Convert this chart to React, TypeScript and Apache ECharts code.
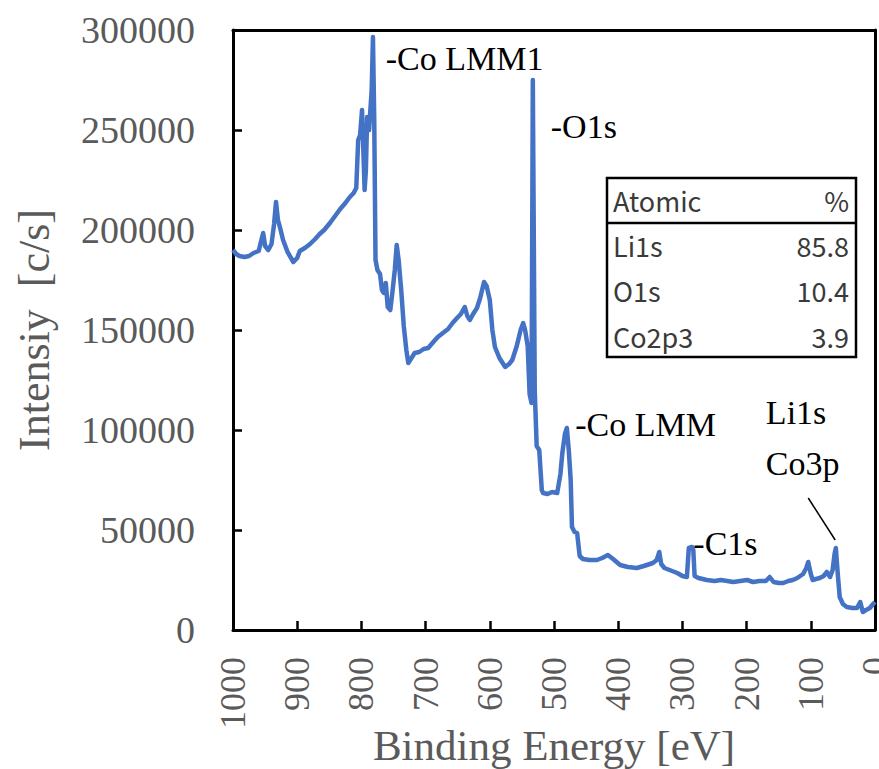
import React, { useEffect, useRef } from "react";
import * as echarts from "echarts";

// Binding energy (eV) and intensity (c/s)
const energy = [
  1000, 995, 990, 982, 975, 968, 960, 955, 953, 950, 945, 940, 936, 933, 930, 927, 922, 915, 906, 900,
  896, 888, 880, 872, 865, 858, 849, 841, 833, 825, 818, 812, 808, 805, 802, 799, 797, 795, 793, 791,
  788, 784, 782, 780, 778, 775, 771, 768, 765, 762, 759, 755, 752, 748, 745, 742, 738, 734, 730, 727,
  722, 717, 710, 703, 696, 688, 681, 673, 665, 658, 651, 645, 639, 635, 631, 626, 620, 615, 609, 605,
  600, 596, 592, 585, 576, 570, 565, 558, 552, 548, 545, 541, 538, 535, 533, 530, 527, 523, 519, 517,
  510, 503, 495, 490, 487, 483, 480, 477, 474, 472, 468, 464, 460, 455, 445, 433, 425, 416, 408, 397,
  385, 371, 360, 346, 340, 336, 333, 328, 320, 308, 300, 293, 290, 285, 283, 281, 275, 262, 250, 240,
  230, 221, 210, 199, 190, 180, 170, 164, 158, 150, 143, 135, 128, 121, 112, 107, 104, 100, 97, 92,
  86, 80, 75, 70, 66, 63, 61, 58, 55, 50, 44, 35, 28, 23, 19, 14, 8, 3, 0,
];
const intensity = [
  190000, 188000, 187000, 186500, 187000, 188500, 189500, 196000, 198500, 192000, 190000, 193000, 203000, 214000, 205000, 201500, 195000, 189000, 184000, 186000,
  189500, 191000, 193000, 195500, 198000, 200000, 203500, 207000, 210500, 213500, 216500, 218500, 221000, 245000, 247500, 260000, 240000, 220000, 230000, 256500,
  250000, 270000, 296500, 255000, 185000, 180000, 178000, 170000, 168500, 173500, 161500, 160000, 168000, 180000, 192500, 185000, 170000, 152000, 140000, 133500,
  136000, 138500, 139000, 140500, 141000, 144000, 146500, 148500, 150500, 153500, 156000, 158000, 161500, 157000, 155000, 158000, 161000, 166000, 174000, 172000,
  165000, 150000, 141500, 136000, 131500, 133000, 135000, 142000, 150000, 153500, 150000, 142000, 118000, 113500, 275000, 120000, 92000, 90000, 70000, 68500,
  68000, 69000, 68500, 78000, 88500, 98000, 101000, 90000, 75000, 51500, 49000, 48500, 37000, 35500, 35000, 35000, 36000, 37500, 35500, 32500,
  31500, 31000, 32000, 33500, 35000, 39000, 33000, 31000, 30000, 28500, 27000, 26500, 41000, 41500, 40000, 27000, 26000, 25000, 24500, 25000,
  24500, 24000, 24500, 25000, 24000, 24500, 24500, 26500, 24000, 23500, 23500, 24500, 25000, 26000, 28000, 31000, 34000, 28000, 25000, 25500,
  26000, 27000, 29000, 26500, 30000, 38000, 41000, 28000, 16500, 13000, 11500, 11000, 11000, 14000, 9000, 10000, 11000, 13000, 14000,
];

// Peak annotations: [text, energy, intensity] (left-middle anchor)
const peakLabels: [string, number, number][] = [
  ["-Co LMM1", 762, 286000],
  ["-O1s", 505, 252000],
  ["-Co LMM", 467, 103000],
  ["-C1s", 283, 43500],
  ["Li1s", 170, 109000],
  ["Co3p", 170, 83500],
];
const leaderLine: [number, number][] = [
  [104, 66000],
  [62, 45000],
];

// Atomic % table
const tableHeader = ["Atomic", "%"];
const tableElements = ["Li1s", "O1s", "Co2p3"];
const tablePercent = ["85.8", "10.4", "3.9"];

export default function App() {
  const ref = useRef<HTMLDivElement>(null);

  useEffect(() => {
    document.body.style.margin = "0";
    if (!ref.current) return;
    const chart = echarts.init(ref.current, null, { renderer: "svg" });
    const serif = "'Liberation Serif', 'Times New Roman', serif";
    const labelColor = "#5a5a5a";
    const frame = {
      axisLine: { show: true, onZero: false, lineStyle: { color: "#000", width: 3 } },
      axisTick: { show: false },
      axisLabel: { show: false },
      splitLine: { show: false },
    };
    chart.setOption({
      animation: false,
      backgroundColor: "#ffffff",
      grid: {
        left: 233,
        right: 4,
        top: 30,
        bottom: 139,
        containLabel: false,
        outerBoundsMode: "none",
      },
      xAxis: [
        {
          type: "value",
          inverse: true,
          min: 0,
          max: 1000,
          interval: 100,
          name: "Binding Energy [eV]",
          nameLocation: "middle",
          nameGap: 94,
          nameMoveOverlap: false,
          nameTextStyle: { fontFamily: serif, fontSize: 43, color: labelColor },
          axisLine: { show: true, onZero: false, lineStyle: { color: "#000", width: 3 } },
          axisTick: { show: true, inside: true, length: 9, lineStyle: { color: "#000", width: 2.5 } },
          axisLabel: {
            rotate: 90,
            margin: 27,
            fontFamily: serif,
            fontSize: 36,
            color: labelColor,
            formatter: (v: number) => String(v),
          },
          splitLine: { show: false },
        },
        { type: "value", position: "top", inverse: true, min: 0, max: 1000, ...frame },
      ],
      yAxis: [
        {
          type: "value",
          min: 0,
          max: 300000,
          interval: 50000,
          name: "Intensiy  [c/s]",
          nameLocation: "middle",
          nameGap: 177,
          nameTextStyle: { fontFamily: serif, fontSize: 44, color: labelColor },
          axisLine: { show: true, onZero: false, lineStyle: { color: "#000", width: 3 } },
          axisTick: { show: true, inside: true, length: 9, lineStyle: { color: "#000", width: 2.5 } },
          axisLabel: {
            margin: 38,
            fontFamily: serif,
            fontSize: 38,
            color: labelColor,
            formatter: (v: number) => String(v),
          },
          splitLine: { show: false },
        },
        { type: "value", position: "right", min: 0, max: 300000, ...frame },
      ],
      series: [
        {
          type: "line",
          data: energy.map((e, i) => [e, intensity[i]]),
          showSymbol: false,
          symbol: "none",
          lineStyle: { color: "#4472C4", width: 4.5, join: "round" },
          clip: true,
          z: 3,
        },
      ],
    });

    const px = (e: number, v: number) =>
      chart.convertToPixel({ xAxisIndex: 0, yAxisIndex: 0 }, [e, v]) as number[];
    const graphics: any[] = [];
    peakLabels.forEach(([t, e, v]) => {
      const [x, y] = px(e, v);
      graphics.push({
        type: "text",
        x,
        y,
        z: 10,
        style: { text: t, fontFamily: serif, fontSize: 34, fill: "#000", align: "left", verticalAlign: "middle" },
      });
    });
    const p1 = px(leaderLine[0][0], leaderLine[0][1]);
    const p2 = px(leaderLine[1][0], leaderLine[1][1]);
    graphics.push({
      type: "line",
      z: 10,
      shape: { x1: p1[0], y1: p1[1], x2: p2[0], y2: p2[1] },
      style: { stroke: "#000", lineWidth: 1.5 },
    });

    // inset table
    const tx = 607, ty = 178, tw = 249, th = 179;
    const sans = "'Noto Sans CJK JP', 'Noto Sans', sans-serif";
    const tcolor = "#3a3a3a";
    graphics.push({
      type: "rect",
      z: 10,
      shape: { x: tx, y: ty, width: tw, height: th },
      style: { fill: "#fff", stroke: "#000", lineWidth: 2.5 },
    });
    graphics.push({
      type: "line",
      z: 11,
      shape: { x1: tx, y1: 223, x2: tx + tw, y2: 223 },
      style: { stroke: "#000", lineWidth: 2.5 },
    });
    graphics.push({
      type: "text", z: 12, x: 613, y: 200,
      style: { text: tableHeader[0], fontFamily: sans, fontSize: 27, fill: tcolor, align: "left", verticalAlign: "middle" },
    });
    graphics.push({
      type: "text", z: 12, x: 849, y: 200,
      style: { text: tableHeader[1], fontFamily: sans, fontSize: 27, fill: tcolor, align: "right", verticalAlign: "middle" },
    });
    tableElements.forEach((el, i) => {
      const y = 245 + i * 45.5;
      graphics.push({
        type: "text", z: 12, x: 613, y,
        style: { text: el, fontFamily: sans, fontSize: 27, fill: tcolor, align: "left", verticalAlign: "middle" },
      });
      graphics.push({
        type: "text", z: 12, x: 849, y,
        style: { text: tablePercent[i], fontFamily: sans, fontSize: 27, fill: tcolor, align: "right", verticalAlign: "middle" },
      });
    });
    chart.setOption({ graphic: graphics });

    return () => chart.dispose();
  }, []);

  return <div ref={ref} style={{ width: 879, height: 769 }} />;
}
